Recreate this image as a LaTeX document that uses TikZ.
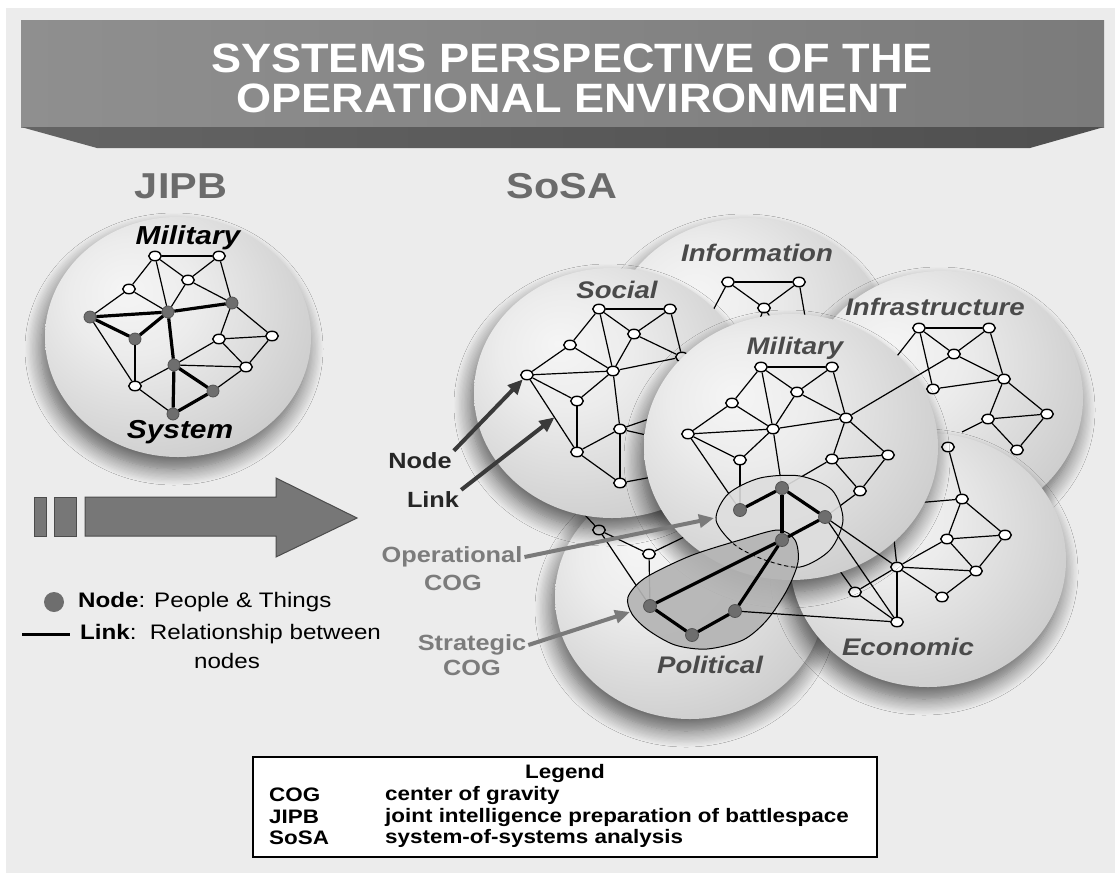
\documentclass[tikz,border=0pt]{standalone}
\usepackage{fontspec}
\setmainfont{Liberation Sans}
\usetikzlibrary{shapes.geometric,shadows.blur,arrows.meta,calc}
\definecolor{bgc}{HTML}{ECECEC}
\definecolor{shA}{HTML}{F5F5F5}
\definecolor{shB}{HTML}{ECECEC}
\definecolor{shC}{HTML}{CFCFCF}
\definecolor{shD}{HTML}{ABABAB}
\definecolor{shE}{HTML}{929292}
\definecolor{shF}{HTML}{808080}
\definecolor{hdtext}{HTML}{6B6B6B}
\definecolor{sltext}{HTML}{4A4A4A}
\definecolor{dnode}{HTML}{6E6E6E}
\definecolor{cogtext}{HTML}{7C7C7C}
\definecolor{arrg}{HTML}{7A7A7A}
\definecolor{arrd}{HTML}{3A3A3A}
\definecolor{banL}{HTML}{8F8F8F}
\definecolor{banR}{HTML}{7B7B7B}
\definecolor{banBL}{HTML}{646464}
\definecolor{banBR}{HTML}{4F4F4F}
\definecolor{opfill}{HTML}{DEDEDE}
\definecolor{stfill}{HTML}{B4B4B4}
\definecolor{bigarr}{HTML}{777777}
\pgfdeclareradialshading{sph}{\pgfpoint{-10bp}{10bp}}{color(0bp)=(shA); color(12bp)=(shB); color(32bp)=(shC); color(48bp)=(shD); color(62bp)=(shE); color(75bp)=(shF)}
\newcommand{\hx}[1]{\scalebox{1.15}[1]{#1}}
\tikzset{
  sphere/.style={shading=sph, blur shadow={shadow xshift=-4pt, shadow yshift=-12pt, shadow blur radius=16pt, shadow opacity=60, shadow blur steps=14}},
  wn/.style={ellipse, draw=black, fill=white, line width=1.4pt, minimum width=12.5pt, minimum height=9.5pt, inner sep=0pt},
  dn/.style={circle, draw=dnode!75!black, fill=dnode, line width=0.8pt, minimum size=12pt, inner sep=0pt},
  lk/.style={draw=black, line width=1.2pt},
  tk/.style={draw=black, line width=3.2pt},
  sl/.style={font=\fontsize{24}{26}\selectfont\bfseries\itshape, text=sltext, inner sep=0pt},
  jl/.style={font=\fontsize{26}{28}\selectfont\bfseries\itshape, text=black, inner sep=0pt},
  hd/.style={font=\fontsize{36}{38}\selectfont\bfseries, text=hdtext, inner sep=0pt},
  titletxt/.style={font=\fontsize{41}{42}\selectfont\bfseries, text=white, inner sep=0pt},
  lbld/.style={font=\fontsize{22}{24}\selectfont\bfseries, text=black!85, inner sep=2pt},
  lblg/.style={font=\fontsize{22}{24}\selectfont\bfseries, text=cogtext, inner sep=2pt},
  ptrd/.style={draw=arrd, line width=4pt, -{Triangle[length=15pt,width=13pt]}},
  ptrg/.style={draw=arrg, line width=4pt, -{Triangle[length=15pt,width=13pt]}},
  legtxt/.style={font=\fontsize{21}{24}\selectfont, text=black, inner sep=0pt},
  boxtxt/.style={font=\fontsize{19.5}{21}\selectfont\bfseries, text=black, inner sep=0pt},
}
\begin{document}
\begin{tikzpicture}[x=1pt,y=-1pt]
\useasboundingbox (0,0) rectangle (1115,873);
\fill[white] (0,0) rectangle (1115,873);
\fill[bgc] (6,8) rectangle (1115,873);

% ---------- banner ----------
\shade[left color=banL,right color=banR] (21,20) rectangle (1104,127);
\shade[left color=banBL,right color=banBR] (21,127) -- (1104,127) -- (1030,148) -- (97,148) -- cycle;
\node[titletxt] (t1) at (572,58) {\scalebox{1.1}[1]{SYSTEMS PERSPECTIVE OF THE}};
\node[titletxt] (t2) at (572,98) {\scalebox{1.1}[1]{OPERATIONAL ENVIRONMENT}};

\node[hd] (hJ) at (181,186) {\hx{JIPB}};
\node[hd] (hS) at (562,186) {\hx{SoSA}};

% ---------- JIPB sphere ----------
\shade[sphere] (178,337) ellipse [x radius=133, y radius=120];
\node[jl] (jMil) at (188,238) {\hx{Military}};
\node[jl] (jSys) at (180,432) {\hx{System}};
\node[wn] (n1) at (155,256) {};
\node[wn] (n2) at (219,256) {};
\node[wn] (n3) at (188,280) {};
\node[wn] (n4) at (129,289) {};
\node[wn] (n5) at (219,339) {};
\node[wn] (n6) at (272,336) {};
\node[wn] (n7) at (246,367) {};
\node[wn] (n8) at (135,386) {};
\node[dn] (d1) at (90,317) {};
\node[dn] (d2) at (168,312) {};
\node[dn] (d3) at (232,303) {};
\node[dn] (d4) at (135,339) {};
\node[dn] (d5) at (174,365) {};
\node[dn] (d6) at (213,391) {};
\node[dn] (d7) at (173,414) {};
\foreach \a/\b in {n1/n2,n1/n4,n1/d2,n1/n3,n2/n3,n2/d3,n3/d2,n3/d3,n4/d1,n4/d2,d1/n8,d3/n5,d3/n6,n5/n6,n5/d5,n5/n7,n6/n7,d5/n7,d4/n8,n8/d5,n8/d7,n7/d6}
  \draw[lk] (\a) -- (\b);
\foreach \a/\b in {d1/d4,d1/d2,d2/d3,d2/d4,d2/d5,d5/d6,d5/d7,d6/d7}
  \draw[tk] (\a) -- (\b);

% ---------- big arrow ----------
\filldraw[fill=bigarr, draw=black!70, line width=1pt] (34,497) rectangle (46,536);
\filldraw[fill=bigarr, draw=black!70, line width=1pt] (54,497) rectangle (76,536);
\filldraw[fill=bigarr, draw=black!70, line width=1pt] (85,497) -- (276,497) -- (276,478) -- (357,518) -- (276,557) -- (276,536) -- (85,536) -- cycle;

% ---------- bottom-left legend ----------
\node[circle, fill=dnode, minimum size=20pt, inner sep=0pt] (legDot) at (54,602) {};
\node[legtxt, anchor=west] (legNode) at (78,602) {\hx{\textbf{Node}: People \& Things}};
\coordinate (legL1) at (22,634);
\coordinate (legL2) at (70,634);
\draw[line width=3pt] (legL1) -- (legL2);
\node[legtxt, anchor=west] (legLink) at (80,634) {\hx{\textbf{Link}:\ \ Relationship between}};
\node[legtxt] (legNodes) at (227,661) {\hx{nodes}};

% ---------- SoSA: Information ----------
\shade[sphere] (748,345) ellipse [x radius=140, y radius=127];
\node[sl] (lInfo) at (757,253) {\hx{Information}};
\node[wn] (i1) at (728,282) {};
\node[wn] (i2) at (799,282) {};
\node[wn] (i3) at (764,308) {};
\coordinate (iA) at (700,335);
\coordinate (iB) at (752,340);
\coordinate (iC) at (790,345);
\coordinate (iD) at (810,345);
\foreach \a/\b in {i1/i2,i1/i3,i2/i3,i1/iA,i3/iB,i3/iC,i2/iD}
  \draw[lk] (\a) -- (\b);

% ---------- SoSA: Infrastructure ----------
\shade[sphere] (943,398) ellipse [x radius=140, y radius=127];
\node[sl] (lInfra) at (935,307) {\hx{Infrastructure}};
\node[wn] (f1) at (919,328) {};
\node[wn] (f2) at (989,328) {};
\node[wn] (f3) at (954,354) {};
\node[wn] (f4) at (933,389) {};
\node[wn] (f5) at (1004,379) {};
\node[wn] (f6) at (988,419) {};
\node[wn] (f7) at (1047,414) {};
\node[wn] (f8) at (1017,450) {};
\coordinate (fA) at (890,365);
\coordinate (fB) at (962,432);
\foreach \a/\b in {f1/f2,f1/f3,f2/f3,f2/f5,f3/f5,f1/f4,f4/f5,f5/f6,f5/f7,f6/f7,f6/f8,f7/f8,f1/fA,f6/fB}
  \draw[lk] (\a) -- (\b);

% ---------- SoSA: Political ----------
\shade[sphere] (690,597) ellipse [x radius=135, y radius=122];
\node[sl] (lPol) at (710,665) {\hx{Political}};
\node[wn] (p1) at (599,530) {};
\node[wn] (p2) at (649,554) {};
\coordinate (cc1) at (740,510);
\coordinate (cc5) at (650,606);
\coordinate (pA) at (585,515);
\foreach \a/\b in {p1/p2,p1/cc5,p2/cc5,p2/cc1,p1/pA}
  \draw[lk] (\a) -- (\b);

% ---------- SoSA: Economic ----------
\shade[sphere] (928,560) ellipse [x radius=138, y radius=127];
\node[sl] (lEco) at (908,647) {\hx{Economic}};
\node[wn] (e1) at (948,447) {};
\node[wn] (e2) at (962,499) {};
\node[wn] (e3) at (897,567) {};
\node[wn] (e4) at (947,539) {};
\node[wn] (e5) at (1005,535) {};
\node[wn] (e6) at (976,571) {};
\node[wn] (e7) at (942,597) {};
\node[wn] (e8) at (855,592) {};
\node[wn] (e9) at (897,622) {};
\coordinate (eA) at (915,503);
\coordinate (eB) at (893,530);
\coordinate (eC) at (832,560);
\foreach \a/\b in {e1/e2,e2/e5,e2/e4,e4/e5,e4/e6,e4/e3,e5/e6,e3/e6,e3/e7,e6/e7,e3/e8,e3/e9,e8/e9,e2/eA,e3/eB,e8/eC}
  \draw[lk] (\a) -- (\b);

% ---------- SoSA: Social ----------
\shade[sphere] (612,393) ellipse [x radius=138, y radius=125];
\node[sl] (lSoc) at (617,290) {\hx{Social}};
\node[wn] (s1) at (599,309) {};
\node[wn] (s2) at (670,309) {};
\node[wn] (s3) at (634,334) {};
\node[wn] (s4) at (570,345) {};
\node[wn] (s5) at (527,375) {};
\node[wn] (s6) at (613,371) {};
\node[wn] (s7) at (577,401) {};
\node[wn] (s8) at (620,429) {};
\node[wn] (s9) at (577,452) {};
\node[wn] (s10) at (620,483) {};
\node[wn] (s11) at (682,357) {};
\coordinate (sA) at (690,405);
\coordinate (sB) at (690,445);
\coordinate (sC) at (690,470);
\foreach \a/\b in {s1/s2,s1/s4,s1/s3,s1/s6,s2/s3,s2/s11,s3/s11,s3/s6,s4/s5,s4/s6,s5/s6,s5/s7,s5/s9,s6/s7,s6/s11,s6/s8,s7/s9,s8/s9,s8/s10,s9/s10,s8/sA,s8/sB,s10/sC}
  \draw[lk] (\a) -- (\b);

% ---------- SoSA: Military ----------
\shade[sphere] (791,447) ellipse [x radius=147, y radius=133];
\node[sl] (lMil) at (795,348) {\hx{Military}};
\node[wn] (m1) at (761,367) {};
\node[wn] (m2) at (832,367) {};
\node[wn] (m3) at (797,392) {};
\node[wn] (m4) at (732,403) {};
\node[wn] (m5) at (688,434) {};
\node[wn] (m6) at (773,429) {};
\node[wn] (m7) at (846,418) {};
\node[wn] (m8) at (740,460) {};
\node[wn] (m9) at (832,459) {};
\node[wn] (m10) at (888,455) {};
\node[wn] (m11) at (860,491) {};
\coordinate (cc2) at (782,488);
\coordinate (cc3) at (825,517);
\foreach \a/\b in {m1/m2,m1/m4,m1/m6,m1/m3,m2/m3,m2/m7,m3/m6,m3/m7,m4/m5,m4/m6,m5/m6,m5/m8,m6/m7,m6/m8,m7/m9,m7/m10,m9/m10,m9/m11,m10/m11,m5/cc1,m8/cc1,m6/cc2,m9/cc2,m11/cc3}
  \draw[lk] (\a) -- (\b);

% ---------- COG regions ----------
\draw[fill=opfill, fill opacity=0.9, draw=black, line width=1pt]
  plot[smooth cycle] coordinates {(716,520) (728,494) (760,478) (800,476) (832,490) (843,520) (830,550) (800,567) (765,560) (735,545)};
\draw[fill=stfill, fill opacity=0.92, draw=black, line width=1pt]
  plot[smooth cycle] coordinates {(628,597) (645,578) (690,556) (740,540) (778,530) (795,540) (798,562) (787,590) (767,620) (743,640) (707,649) (675,645) (648,630) (632,614)};
\begin{scope}
  \clip plot[smooth cycle] coordinates {(628,597) (645,578) (690,556) (740,540) (778,530) (795,540) (798,562) (787,590) (767,620) (743,640) (707,649) (675,645) (648,630) (632,614)};
  \draw[dashed, line width=0.9pt, dash pattern=on 4pt off 3pt]
    plot[smooth cycle] coordinates {(716,520) (728,494) (760,478) (800,476) (832,490) (843,520) (830,550) (800,567) (765,560) (735,545)};
\end{scope}

\node[dn, minimum size=13pt] (c1) at (740,510) {};
\node[dn, minimum size=13pt] (c2) at (782,488) {};
\node[dn, minimum size=13pt] (c3) at (825,517) {};
\node[dn, minimum size=13pt] (c4) at (782,540) {};
\node[dn, minimum size=13pt] (c5) at (650,606) {};
\node[dn, minimum size=13pt] (c6) at (692,635) {};
\node[dn, minimum size=13pt] (c7) at (735,611) {};
\foreach \a/\b in {c1/c2,c2/c3,c2/c4,c3/c4,c4/c5,c4/c7,c7/c6,c6/c5}
  \draw[tk] (\a) -- (\b);

% cross-system links
\foreach \a/\b in {m7/f3,c3/e3,c3/e9,c7/e9}
  \draw[lk] (\a) -- (\b);

% ---------- pointers ----------
\node[lbld] (lblNode) at (420,461) {\hx{Node}};
\node[lbld] (lblLink) at (433,500) {\hx{Link}};
\coordinate (lkpt) at ($(s5)!0.55!(s9)$);
\draw[ptrd] (lblNode.north east) -- (s5);
\draw[ptrd] (lblLink.north east) -- (lkpt);

\node[lblg] (lblOp) at (452,557) {\hx{Operational}};
\node[lblg] (lblOpC) at (453,583) {\hx{COG}};
\node[lblg] (lblSt) at (472,645) {\hx{Strategic}};
\node[lblg] (lblStC) at (472,668) {\hx{COG}};
\coordinate (opL) at (714,518);
\coordinate (stL) at (630,612);
\draw[ptrg] (lblOp.east) -- (opL);
\draw[ptrg] (lblSt.east) -- (stL);

% ---------- legend box ----------
\node[draw=black, line width=1.5pt, fill=white, minimum width=624pt, minimum height=100pt, inner sep=0pt] (legbox) at (565,807) {};
\node[boxtxt] (legT) at (565,773) {\hx{Legend}};
\node[boxtxt, anchor=west] (kCOG) at (269,795) {\hx{COG}};
\node[boxtxt, anchor=west] (kJIPB) at (269,817) {\hx{JIPB}};
\node[boxtxt, anchor=west] (kSoSA) at (269,838) {\hx{SoSA}};
\node[boxtxt, anchor=west] (vCOG) at (385,795) {\hx{center of gravity}};
\node[boxtxt, anchor=west] (vJIPB) at (385,817) {\hx{joint intelligence preparation of battlespace}};
\node[boxtxt, anchor=west] (vSoSA) at (385,838) {\hx{system-of-systems analysis}};
\end{tikzpicture}
\end{document}
